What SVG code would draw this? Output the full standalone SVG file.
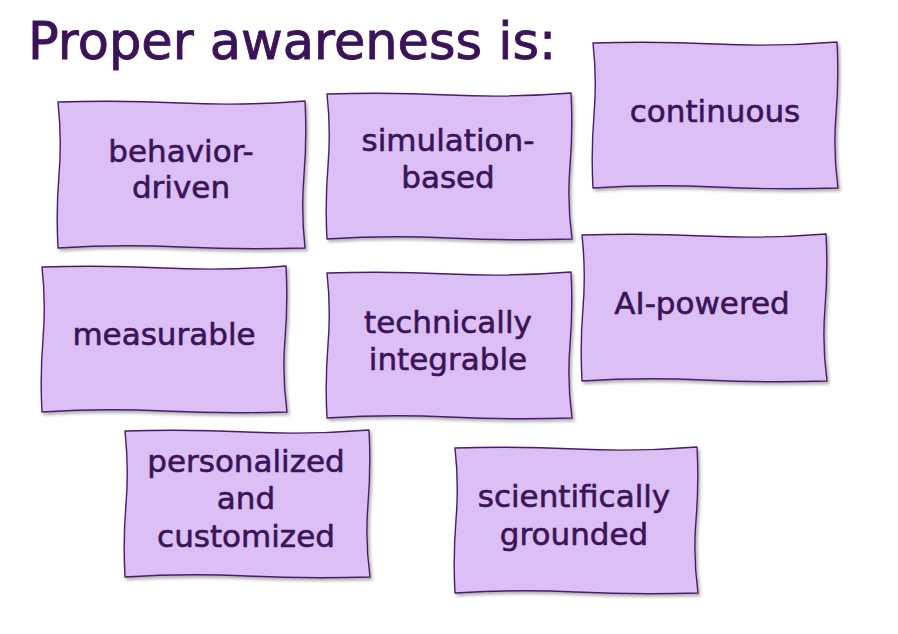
<svg xmlns="http://www.w3.org/2000/svg" width="898" height="634" viewBox="0 0 898 634">
<defs>
<filter id="sh" x="-5%" y="-5%" width="115%" height="115%">
<feDropShadow dx="2" dy="2.5" stdDeviation="1.5" flood-color="#000" flood-opacity="0.3"/>
</filter>
</defs>
<style>
.box{fill:#dcbff4;stroke:#4a1d69;stroke-width:1.4;stroke-linejoin:round;filter:url(#sh)}
.t{font-family:"DejaVu Sans",sans-serif;font-size:31px;fill:#3b1358;stroke:#3b1358;stroke-width:0.6;text-anchor:middle}
.title{font-family:"DejaVu Sans",sans-serif;font-size:51px;fill:#3b1358;stroke:#3b1358;stroke-width:0.9}
</style>
<rect width="898" height="634" fill="#ffffff"/>
<text class="title" x="28" y="59">Proper awareness is:</text>
<g id="connectors"></g>
<g id="n1">
<path class="box" d="M58,102 Q120,100 181,103 T305,101 Q307,138 304,175 T305,248 Q243,250 181,247 T58,248 Q56,211 59,175 T58,102 Z"/>
<text class="t" x="181" y="162">behavior-</text>
<text class="t" x="181" y="198">driven</text>
</g>
<g id="n2">
<path class="box" d="M327,94 Q388,92 449,95 T571,93 Q573,130 570,166 T572,239 Q511,241 449,238 T327,239 Q325,203 328,166 T327,94 Z"/>
<text class="t" x="448" y="151">simulation-</text>
<text class="t" x="448" y="188">based</text>
</g>
<g id="n3">
<path class="box" d="M593,43 Q654,41 715,44 T837,42 Q839,79 836,115 T838,188 Q777,190 715,187 T593,188 Q591,152 594,115 T593,43 Z"/>
<text class="t" x="715" y="122">continuous</text>
</g>
<g id="n4">
<path class="box" d="M42,267 Q103,265 164,268 T286,266 Q288,303 285,339 T287,412 Q226,414 164,411 T42,412 Q40,376 43,339 T42,267 Z"/>
<text class="t" x="164" y="345">measurable</text>
</g>
<g id="n5">
<path class="box" d="M327,273 Q388,271 449,274 T571,272 Q573,309 570,345 T572,418 Q511,420 449,417 T327,418 Q325,382 328,345 T327,273 Z"/>
<text class="t" x="448" y="333">technically</text>
<text class="t" x="448" y="370">integrable</text>
</g>
<g id="n6">
<path class="box" d="M582,235 Q643,233 704,236 T826,234 Q828,271 825,308 T827,381 Q766,383 704,380 T582,381 Q580,344 583,308 T582,235 Z"/>
<text class="t" x="702" y="314">AI-powered</text>
</g>
<g id="n7">
<path class="box" d="M125,431 Q186,429 247,432 T369,430 Q371,467 368,504 T370,577 Q309,579 247,576 T125,577 Q123,540 126,504 T125,431 Z"/>
<text class="t" x="246" y="472">personalized</text>
<text class="t" x="246" y="509">and</text>
<text class="t" x="246" y="547">customized</text>
</g>
<g id="n8">
<path class="box" d="M455,448 Q516,446 576,449 T697,447 Q699,484 696,520 T698,593 Q637,595 576,592 T455,593 Q453,557 456,520 T455,448 Z"/>
<text class="t" x="574" y="507">scientifically</text>
<text class="t" x="574" y="545">grounded</text>
</g>
</svg>
